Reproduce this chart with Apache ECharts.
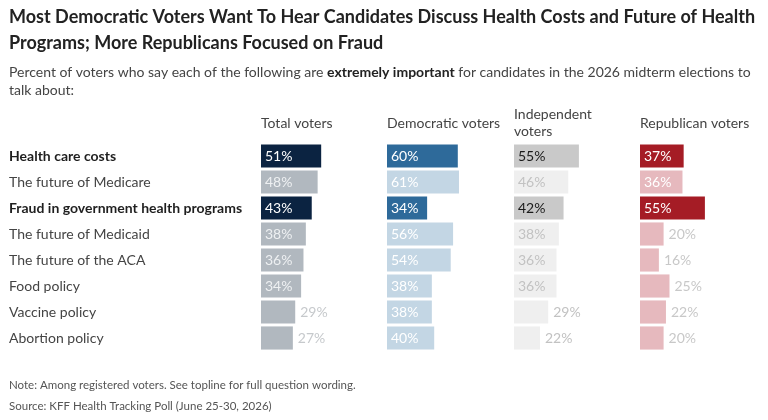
<!DOCTYPE html>
<html>
<head>
<meta charset="utf-8">
<script src="https://cdn.jsdelivr.net/npm/echarts@6/dist/echarts.min.js"></script>
<style>
  html, body { margin: 0; padding: 0; background: #fff; }
  #chart { width: 768px; height: 420px; }
</style>
</head>
<body>
<div id="chart"></div>
<script>
// data
const categories = [
  "Health care costs",
  "The future of Medicare",
  "Fraud in government health programs",
  "The future of Medicaid",
  "The future of the ACA",
  "Food policy",
  "Vaccine policy",
  "Abortion policy"
];
const boldRows = [0, 2];
const panelNames = ["Total voters", "Democratic voters", "Independent\nvoters", "Republican voters"];
const totalVals = [51, 48, 43, 38, 36, 34, 29, 27];
const demVals = [60, 61, 34, 56, 54, 38, 38, 40];
const indVals = [55, 46, 42, 38, 36, 36, 29, 22];
const repVals = [37, 36, 55, 20, 16, 25, 22, 20];

const FONT = "Lato, 'Noto Sans', sans-serif";
const panelLeft = [261, 387, 514, 640];
const gridTop = 143;
const gridH = 208;

// colours per panel: highlight bar, other bar, highlight label, other label, outside label
const styles = [
  { hi: "#0b2341", lo: "#b1b8bf", hiText: "#ffffff", loText: "#eef0f2", outText: "#c6c9cc" },
  { hi: "#2e6a9a", lo: "#c3d6e4", hiText: "#ffffff", loText: "#ffffff", outText: "#c6c9cc" },
  { hi: "#c9c9c9", lo: "#efefef", hiText: "#1a1a1a", loText: "#c2c2c2", outText: "#c2c2c2" },
  { hi: "#a51c25", lo: "#e6b9be", hiText: "#ffffff", loText: "#ffffff", outText: "#c8c8c8" }
];

function buildData(vals, st) {
  return vals.map(function (v, i) {
    const hi = boldRows.indexOf(i) >= 0;
    const inside = v >= 30;
    return {
      value: v,
      itemStyle: { color: hi ? st.hi : st.lo },
      label: {
        position: inside ? "insideLeft" : "right",
        distance: inside ? 4 : 5,
        color: inside ? (hi ? st.hiText : st.loText) : st.outText
      }
    };
  });
}

const allVals = [totalVals, demVals, indVals, repVals];

const grids = [], xAxes = [], yAxes = [], series = [];
allVals.forEach(function (vals, k) {
  grids.push({ left: panelLeft[k], top: gridTop, width: 118, height: gridH });
  xAxes.push({
    gridIndex: k, type: "value", min: 0, max: 100, show: false
  });
  yAxes.push({
    gridIndex: k,
    type: "category",
    data: categories,
    inverse: true,
    axisLine: { show: false },
    axisTick: { show: false },
    axisLabel: k === 0 ? {
      show: true,
      align: "left",
      margin: 252,
      fontFamily: FONT,
      fontSize: 14,
      color: "#444",
      formatter: function (val, idx) {
        return boldRows.indexOf(idx) >= 0 ? "{b|" + val + "}" : val;
      },
      rich: { b: { fontFamily: FONT, fontSize: 14, fontWeight: "bold", color: "#1f1f1f" } }
    } : { show: false }
  });
  series.push({
    type: "bar",
    xAxisIndex: k,
    yAxisIndex: k,
    barCategoryGap: "11%",
    silent: true,
    label: {
      show: true,
      fontFamily: FONT,
      fontSize: 14,
      formatter: "{c}%"
    },
    data: buildData(vals, styles[k])
  });
});

const titles = [
  {
    text: "Most Democratic Voters Want To Hear Candidates Discuss Health Costs and Future of Health\nPrograms; More Republicans Focused on Fraud",
    left: 9, top: 4, padding: 0,
    textStyle: { fontFamily: FONT, fontSize: 18, fontWeight: "bold", color: "#222", lineHeight: 26 }
  },
  {
    text: "{n|Percent of voters who say each of the following are }{b|extremely important}{n| for candidates in the 2026 midterm elections to}\n{n|talk about:}",
    left: 9, top: 63, padding: 0,
    textStyle: {
      fontWeight: "normal",
      rich: {
        n: { fontFamily: FONT, fontSize: 14, fontWeight: "normal", color: "#444", lineHeight: 18 },
        b: { fontFamily: FONT, fontSize: 14, fontWeight: "bold", color: "#222", lineHeight: 18 }
      }
    }
  },
  {
    text: "Note: Among registered voters. See topline for full question wording.",
    left: 9, top: 379, padding: 0,
    textStyle: { fontFamily: FONT, fontSize: 11.5, fontWeight: "normal", color: "#555" }
  },
  {
    text: "Source: KFF Health Tracking Poll (June 25-30, 2026)",
    left: 9, top: 400, padding: 0,
    textStyle: { fontFamily: FONT, fontSize: 11.5, fontWeight: "normal", color: "#555" }
  }
];
panelNames.forEach(function (name, k) {
  const twoLines = name.indexOf("\n") >= 0;
  titles.push({
    text: name,
    left: panelLeft[k], top: twoLines ? 106 : 115, padding: 0,
    textStyle: { fontFamily: FONT, fontSize: 14, fontWeight: "normal", color: "#444", lineHeight: 17 }
  });
});

const chart = echarts.init(document.getElementById("chart"));
chart.setOption({
  animation: false,
  title: titles,
  grid: grids,
  xAxis: xAxes,
  yAxis: yAxes,
  series: series
});
</script>
</body>
</html>
